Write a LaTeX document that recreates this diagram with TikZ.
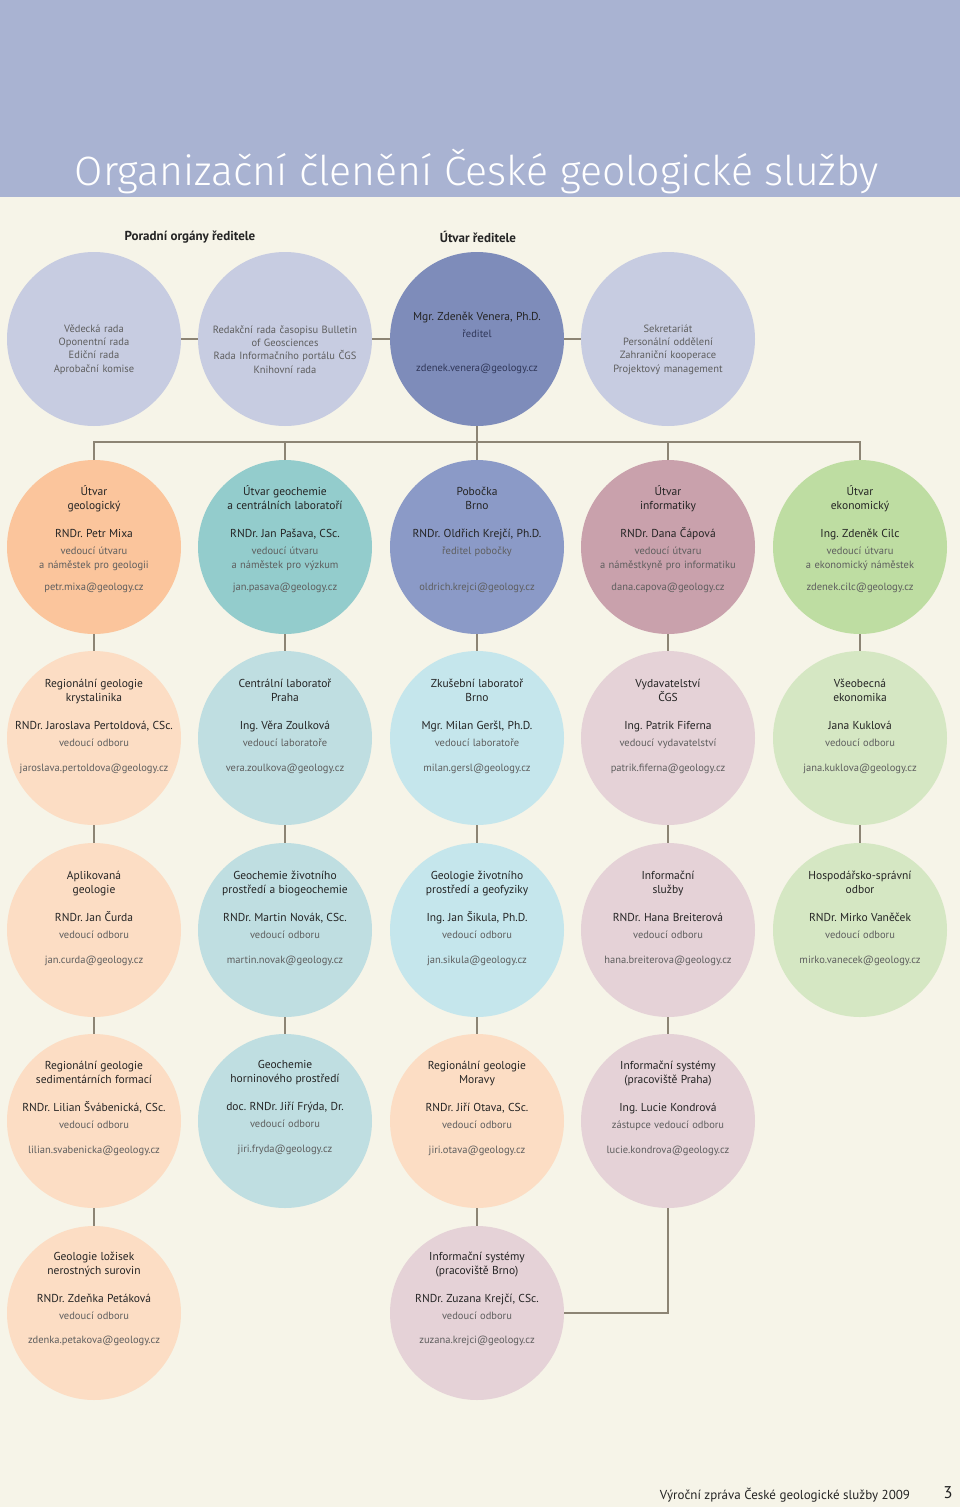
\documentclass[tikz,border=0pt]{standalone}
\usepackage{fontspec}
\setmainfont{PT Sans}
\newfontfamily\titlefont{Fira Sans Light}
\usepackage{xcolor}
\usetikzlibrary{calc}
\frenchspacing
\definecolor{cgsband}{HTML}{A9B3D2}
\definecolor{cgspaper}{HTML}{F6F4E8}
\definecolor{cgslink}{HTML}{8C8474}
\definecolor{ink}{HTML}{242424}
\definecolor{inkgray}{HTML}{5E5E5E}
\definecolor{poradfill}{HTML}{C7CCE1}
\definecolor{reditelfill}{HTML}{7E8CBA}
\definecolor{reditelink}{HTML}{2F3658}
\definecolor{geodark}{HTML}{FBC59C}
\definecolor{geolight}{HTML}{FCDDC4}
\definecolor{chemdark}{HTML}{93CCCC}
\definecolor{chemlight}{HTML}{BFDEE1}
\definecolor{brnodark}{HTML}{8B9AC7}
\definecolor{brnolight}{HTML}{C5E6EC}
\definecolor{infdark}{HTML}{C9A1AC}
\definecolor{inflight}{HTML}{E5D2D7}
\definecolor{ekodark}{HTML}{BEDDA2}
\definecolor{ekolight}{HTML}{D5E7C3}
\newcommand{\bigtxt}{\fontsize{11.5}{14}\selectfont}
\newcommand{\smalltxt}{\fontsize{10.5}{14}\selectfont}
% title, person, role, mail; optional: gap before mail
\newcommand{\orgtext}[5][13pt]{\bigtxt\color{ink}#2\\[14pt]#3\\[3pt]\smalltxt\color{inkgray}#4\\[#1]#5}

\begin{document}
\begin{tikzpicture}[x=1pt, y=-1pt,
  disc/.style={circle, minimum size=174pt, inner sep=0pt, outer sep=0pt},
  txt/.style={align=center, text width=180pt, inner sep=0pt},
  poradtxt/.style={txt, text=inkgray, font=\fontsize{10.5}{13.3}\selectfont},
  head/.style={text=ink, font=\fontsize{13}{15}\selectfont\bfseries},
  link/.style={draw=cgslink, line width=1.1pt}]

\useasboundingbox (0,0) rectangle (960,1507);
\fill[cgspaper] (0,0) rectangle (960,1507);
\fill[cgsband] (0,0) rectangle (960,197);
\node[text=white, font=\titlefont\fontsize{41}{41}\selectfont] (title) at (477,171) {Organizační členění České geologické služby};

% vedeni
\node[head] (hporad) at (190,237) {Poradní orgány ředitele};
\node[head] (hutvar) at (478,237) {Útvar ředitele};
\node[disc, fill=poradfill] (vedrada) at (94,339) {};
\node[poradtxt, yshift=-10.5pt] (vedrada-t) at (vedrada.center) {Vědecká rada\\Oponentní rada\\Ediční rada\\Aprobační komise};
\node[disc, fill=poradfill] (redrada) at (285,339) {};
\node[poradtxt, yshift=-10.5pt] (redrada-t) at (redrada.center) {Redakční rada časopisu Bulletin\\of Geosciences\\Rada Informačního portálu ČGS\\Knihovní rada};
\node[disc, fill=reditelfill] (reditel) at (477,339) {};
\node[txt, yshift=-4pt] (reditel-t) at (reditel.center) {\bigtxt\color{ink}Mgr. Zdeněk Venera, Ph.D.\\[3pt]\smalltxt\color{reditelink}ředitel\\[22pt]zdenek.venera@geology.cz};
\node[disc, fill=poradfill] (sekret) at (668,339) {};
\node[poradtxt, yshift=-10.5pt] (sekret-t) at (sekret.center) {Sekretariát\\Personální oddělení\\Zahraniční kooperace\\Projektový management};

% utvary
\node[disc, fill=geodark] (geo) at (94,547) {};
\node[txt, yshift=7.5pt] (geo-t) at (geo.center) {\orgtext[10pt]{Útvar\\geologický}{RNDr. Petr Mixa}{vedoucí útvaru\\a náměstek pro geologii}{petr.mixa@geology.cz}};
\node[disc, fill=chemdark] (chem) at (285,547) {};
\node[txt, yshift=7.5pt] (chem-t) at (chem.center) {\orgtext[10pt]{Útvar geochemie\\a centrálních laboratoří}{RNDr. Jan Pašava, CSc.}{vedoucí útvaru\\a náměstek pro výzkum}{jan.pasava@geology.cz}};
\node[disc, fill=brnodark] (brno) at (477,547) {};
\node[txt, yshift=7.5pt] (brno-t) at (brno.center) {\orgtext[10pt]{Pobočka\\Brno}{RNDr. Oldřich Krejčí, Ph.D.}{ředitel pobočky\\\mbox{}}{oldrich.krejci@geology.cz}};
\node[disc, fill=infdark] (inf) at (668,547) {};
\node[txt, yshift=7.5pt] (inf-t) at (inf.center) {\orgtext[10pt]{Útvar\\informatiky}{RNDr. Dana Čápová}{vedoucí útvaru\\a náměstkyně pro informatiku}{dana.capova@geology.cz}};
\node[disc, fill=ekodark] (eko) at (860,547) {};
\node[txt, yshift=7.5pt] (eko-t) at (eko.center) {\orgtext[10pt]{Útvar\\ekonomický}{Ing. Zdeněk Cilc}{vedoucí útvaru\\a ekonomický náměstek}{zdenek.cilc@geology.cz}};

% odbory
\node[disc, fill=geolight] (krystal) at (94,738) {};
\node[txt, yshift=12pt] (krystal-t) at (krystal.center) {\orgtext{Regionální geologie\\krystalinika}{RNDr. Jaroslava Pertoldová, CSc.}{vedoucí odboru}{jaroslava.pertoldova@geology.cz}};
\node[disc, fill=chemlight] (labpraha) at (285,738) {};
\node[txt, yshift=12pt] (labpraha-t) at (labpraha.center) {\orgtext{Centrální laboratoř\\Praha}{Ing. Věra Zoulková}{vedoucí laboratoře}{vera.zoulkova@geology.cz}};
\node[disc, fill=brnolight] (labbrno) at (477,738) {};
\node[txt, yshift=12pt] (labbrno-t) at (labbrno.center) {\orgtext{Zkušební laboratoř\\Brno}{Mgr. Milan Geršl, Ph.D.}{vedoucí laboratoře}{milan.gersl@geology.cz}};
\node[disc, fill=inflight] (vydav) at (668,738) {};
\node[txt, yshift=12pt] (vydav-t) at (vydav.center) {\orgtext{Vydavatelství\\ČGS}{Ing. Patrik Fiferna}{vedoucí vydavatelství}{patrik.fiferna@geology.cz}};
\node[disc, fill=ekolight] (vseob) at (860,738) {};
\node[txt, yshift=12pt] (vseob-t) at (vseob.center) {\orgtext{Všeobecná\\ekonomika}{Jana Kuklová}{vedoucí odboru}{jana.kuklova@geology.cz}};

\node[disc, fill=geolight] (aplik) at (94,930) {};
\node[txt, yshift=12pt] (aplik-t) at (aplik.center) {\orgtext{Aplikovaná\\geologie}{RNDr. Jan Čurda}{vedoucí odboru}{jan.curda@geology.cz}};
\node[disc, fill=chemlight] (biogeo) at (285,930) {};
\node[txt, yshift=12pt] (biogeo-t) at (biogeo.center) {\orgtext{Geochemie životního\\prostředí a biogeochemie}{RNDr. Martin Novák, CSc.}{vedoucí odboru}{martin.novak@geology.cz}};
\node[disc, fill=brnolight] (geofyz) at (477,930) {};
\node[txt, yshift=12pt] (geofyz-t) at (geofyz.center) {\orgtext{Geologie životního\\prostředí a geofyziky}{Ing. Jan Šikula, Ph.D.}{vedoucí odboru}{jan.sikula@geology.cz}};
\node[disc, fill=inflight] (infsluz) at (668,930) {};
\node[txt, yshift=12pt] (infsluz-t) at (infsluz.center) {\orgtext{Informační\\služby}{RNDr. Hana Breiterová}{vedoucí odboru}{hana.breiterova@geology.cz}};
\node[disc, fill=ekolight] (hosp) at (860,930) {};
\node[txt, yshift=12pt] (hosp-t) at (hosp.center) {\orgtext{Hospodářsko-správní\\odbor}{RNDr. Mirko Vaněček}{vedoucí odboru}{mirko.vanecek@geology.cz}};

\node[disc, fill=geolight] (sedim) at (94,1121) {};
\node[txt, yshift=13pt] (sedim-t) at (sedim.center) {\orgtext{Regionální geologie\\sedimentárních formací}{RNDr. Lilian Švábenická, CSc.}{vedoucí odboru}{lilian.svabenicka@geology.cz}};
\node[disc, fill=chemlight] (hornin) at (285,1121) {};
\node[txt, yshift=13pt] (hornin-t) at (hornin.center) {\orgtext{Geochemie\\horninového prostředí}{doc. RNDr. Jiří Frýda, Dr.}{vedoucí odboru}{jiri.fryda@geology.cz}};
\node[disc, fill=geolight] (morava) at (477,1121) {};
\node[txt, yshift=13pt] (morava-t) at (morava.center) {\orgtext{Regionální geologie\\Moravy}{RNDr. Jiří Otava, CSc.}{vedoucí odboru}{jiri.otava@geology.cz}};
\node[disc, fill=inflight] (ispraha) at (668,1121) {};
\node[txt, yshift=13pt] (ispraha-t) at (ispraha.center) {\orgtext{Informační systémy\\(pracoviště Praha)}{Ing. Lucie Kondrová}{zástupce vedoucí odboru}{lucie.kondrova@geology.cz}};

\node[disc, fill=geolight] (lozisk) at (94,1313) {};
\node[txt, yshift=14pt] (lozisk-t) at (lozisk.center) {\orgtext[12pt]{Geologie ložisek\\nerostných surovin}{RNDr. Zdeňka Petáková}{vedoucí odboru}{zdenka.petakova@geology.cz}};
\node[disc, fill=inflight] (isbrno) at (477,1313) {};
\node[txt, yshift=14pt] (isbrno-t) at (isbrno.center) {\orgtext[12pt]{Informační systémy\\(pracoviště Brno)}{RNDr. Zuzana Krejčí, CSc.}{vedoucí odboru}{zuzana.krejci@geology.cz}};

% spojnice
\coordinate (bus) at (477,442);
\draw[link] (vedrada) -- (redrada);
\draw[link] (redrada) -- (reditel);
\draw[link] (reditel) -- (sekret);
\draw[link] (reditel) -- (bus);
\draw[link] (geo) |- (bus) -| (eko);
\draw[link] (brno) -- (bus);
\draw[link] (chem) -- (chem |- bus);
\draw[link] (inf) -- (inf |- bus);
\foreach \a/\b in {geo/krystal, krystal/aplik, aplik/sedim, sedim/lozisk,
                   chem/labpraha, labpraha/biogeo, biogeo/hornin,
                   brno/labbrno, labbrno/geofyz, geofyz/morava, morava/isbrno,
                   inf/vydav, vydav/infsluz, infsluz/ispraha,
                   eko/vseob, vseob/hosp}
  \draw[link] (\a) -- (\b);
\draw[link] (ispraha) |- (isbrno);

\node[text=ink, font=\fontsize{13}{15}\selectfont] (zprava) at (785,1495) {Výroční zpráva České geologické služby 2009};
\node[text=ink, font=\fontsize{17}{18}\selectfont] (strana) at (948,1493) {3};

\end{tikzpicture}
\end{document}
